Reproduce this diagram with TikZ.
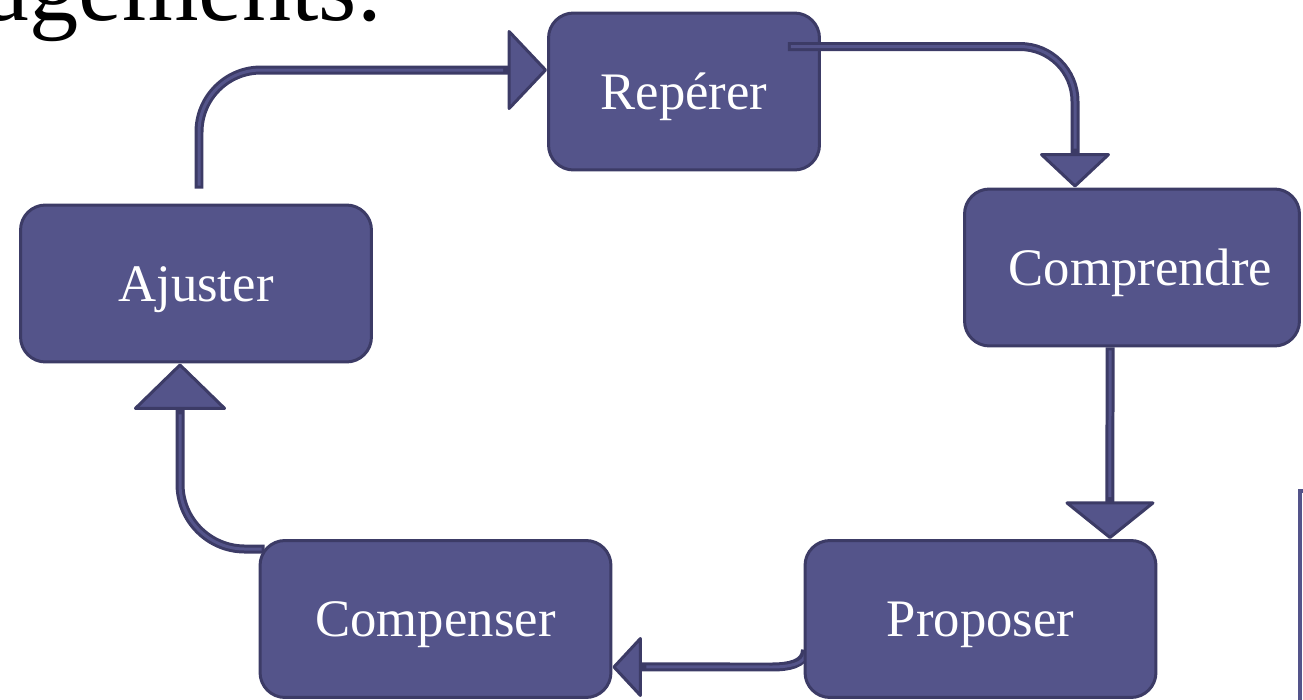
\documentclass[tikz,border=0pt]{standalone}
\usepackage{fontspec}
\setmainfont{Liberation Serif}
\usepackage{tikz}
\usetikzlibrary{positioning, arrows.meta, backgrounds}

\definecolor{cajafondo}{RGB}{84,84,138}
\definecolor{cajaborde}{RGB}{60,59,102}

\begin{document}
\begin{tikzpicture}[x=0.02cm, y=-0.02cm,
    etapa/.style={draw=cajaborde, fill=cajafondo, line width=0.06cm, rounded corners=0.5cm,
        minimum height=3.14cm, minimum width=7.02cm, text=white, font=\fontsize{30}{36}\selectfont,
        text height=20pt, text depth=0pt},
    flecha/.style 2 args={draw=cajaborde, line width=0.18cm,
        -{Triangle[length=#1, width=#2, line width=0.06cm, fill=cajafondo, round]},
        postaction={draw=cajafondo, line width=0.06cm, arrows=-, shorten <=0.06cm, shorten >=#1+0.08cm}}]
    \useasboundingbox (0,0) rectangle (1303,700);

    % etapas del ciclo
    \node[anchor=base east, font=\fontsize{56}{60}\selectfont] (titulo) at (388,20) {agements.};
    \node[etapa, minimum width=5.42cm] (reperer) at (684,91.5) {Repérer};
    \node[etapa, minimum width=6.7cm] (comprendre) at (1132,267.5) {\hspace*{0.34cm}Comprendre};
    \node[etapa] (proposer) at (980.5,619) {Proposer};
    \node[etapa] (compenser) at (435.5,619) {Compenser};
    \node[etapa] (ajuster) at (196,283.5) {Ajuster};

    \begin{scope}[on background layer]
        \draw[flecha={0.8cm}{1.68cm}, rounded corners=1.24cm] ([xshift=0.06cm, yshift=0.3cm]ajuster.north) |- ([yshift=0.43cm]reperer.west);
        \draw[flecha={0.76cm}{1.88cm}] ([xshift=-0.44cm]comprendre.south) -- ([xshift=2.59cm]proposer.north);
        \draw[flecha={0.6cm}{1.28cm}] ([xshift=0.04cm, yshift=-0.62cm]proposer.west) to[out=-90, in=0] ++(-33,17) -- ([yshift=-0.96cm]compenser.east);
        \draw[flecha={0.94cm}{1.92cm}, rounded corners=1.3cm] ([xshift=0.12cm, yshift=-0.2cm]compenser.north west) -| ([xshift=-0.32cm]ajuster.south);
    \end{scope}
    \draw[flecha={0.7cm}{1.48cm}, rounded corners=1.1cm] ([xshift=-0.66cm, yshift=-0.7cm]reperer.north east) -| ([xshift=-1.14cm]comprendre.north);

    \draw[cajafondo, line width=0.08cm] (1300,700) |- (1303,491);
\end{tikzpicture}
\end{document}
